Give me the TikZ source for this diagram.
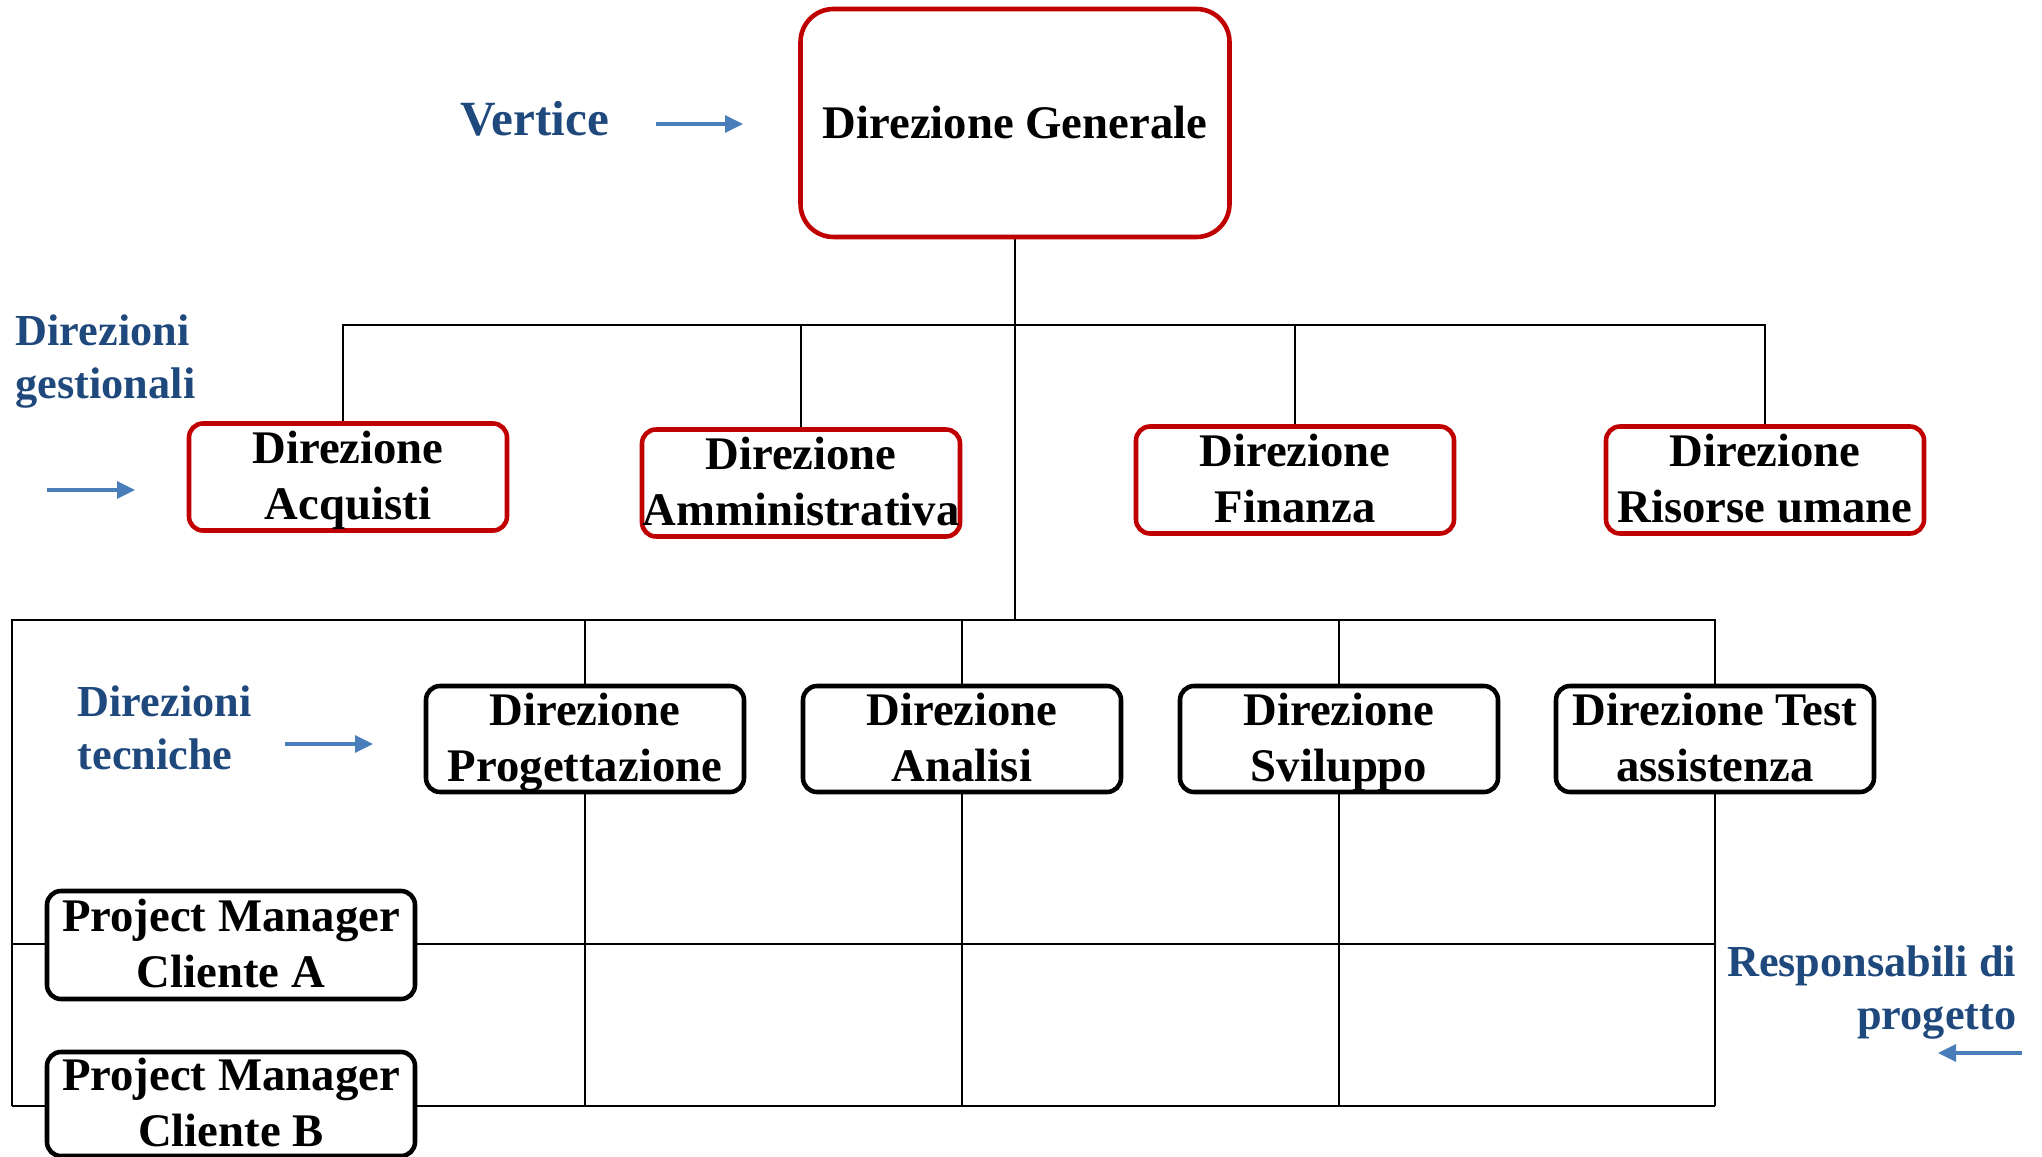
\documentclass[tikz,border=0pt]{standalone}
\usepackage{fontspec}
\setmainfont{Liberation Serif}
\usetikzlibrary{arrows.meta,backgrounds}
\definecolor{dgred}{RGB}{192,0,0}
\definecolor{lblblue}{RGB}{31,73,125}
\definecolor{arrblue}{RGB}{74,126,187}
% two centred lines with a fixed top height and bottom depth
\newcommand{\twoline}[2]{\rule{0pt}{9pt}\smash{#1}\\\smash{#2}\rule[-0.6pt]{0pt}{0.6pt}}
\begin{document}
\begin{tikzpicture}[x=0.1mm,y=-0.1mm,
  conn/.style={draw=black,line width=0.6pt},
  boxtext/.style={align=center,inner sep=0pt,
    font=\bfseries\fontsize{13.3}{16}\selectfont},
  redbox/.style={boxtext,draw=dgred,line width=1.3pt,fill=white,
    rounded corners=1.4mm,minimum width=31.8mm,minimum height=10.7mm},
  blkbox/.style={boxtext,draw=black,line width=1.3pt,fill=white,
    rounded corners=1.4mm,minimum width=31.8mm,minimum height=10.6mm},
  dgbox/.style={align=center,inner sep=0pt,
    font=\bfseries\fontsize{13.3}{15.6}\selectfont,
    draw=dgred,line width=1.3pt,fill=white,rounded corners=3.3mm,
    minimum width=42.9mm,minimum height=22.8mm},
  bluelbl/.style={text=lblblue,inner sep=0pt,
    font=\bfseries\fontsize{12.6}{15.2}\selectfont},
  bluearrow/.style={draw=arrblue,line width=0.9pt,
    -{Triangle[length=1.8mm,width=1.7mm]}}]

\useasboundingbox (0,0) rectangle (2042,1157);

% top of the hierarchy
\node[dgbox] (dg) at (1015,123) {Direzione Generale};

% management directions
\node[redbox] (acq) at (348,477) {\twoline{Direzione}{Acquisti}};
\node[redbox] (amm) at (801,483) {\twoline{Direzione}{Amministrativa}};
\node[redbox] (fin) at (1295,480) {\twoline{Direzione}{Finanza}};
\node[redbox] (ris) at (1765,480) {\twoline{Direzione}{Risorse umane}};

% technical directions
\node[blkbox] (prg) at (585,739) {\twoline{Direzione}{Progettazione}};
\node[blkbox] (ana) at (962,739) {\twoline{Direzione}{Analisi}};
\node[blkbox] (svi) at (1339,739) {\twoline{Direzione}{Sviluppo}};
\node[blkbox] (tst) at (1715,739) {\twoline{Direzione Test}{assistenza}};

% project managers
\node[blkbox,minimum width=36.8mm,minimum height=10.8mm] (pma) at (231,945) {\twoline{Project Manager}{Cliente A}};
\node[blkbox,minimum width=36.8mm,minimum height=10.4mm] (pmb) at (231,1104) {\twoline{Project Manager}{Cliente B}};

% side labels
\node[text=lblblue,inner sep=0pt,anchor=base west,
  font=\bfseries\fontsize{14}{16}\selectfont] (lvert) at (460,136) {Vertice};
\node[bluelbl,align=left,anchor=north west] (lgest) at (15,314) {Direzioni\\gestionali};
\node[bluelbl,align=left,anchor=north west] (ltec) at (77,685) {Direzioni\\tecniche};
\node[bluelbl,align=right,anchor=north east] (lresp) at (2017,945) {Responsabili di\\progetto};

% pointer arrows
\coordinate (va) at (656,124);  \coordinate (vb) at (743,124);
\coordinate (ga) at (47,490);   \coordinate (gb) at (135,490);
\coordinate (ta) at (285,744);  \coordinate (tb) at (373,744);
\coordinate (ra) at (2022,1053); \coordinate (rb) at (1938,1053);
\draw[bluearrow] (va) -- (vb);
\draw[bluearrow] (ga) -- (gb);
\draw[bluearrow] (ta) -- (tb);
\draw[bluearrow] (ra) -- (rb);

% bus levels and matrix frame
\coordinate (b1) at (1015,325);
\coordinate (b2) at (1015,620);
\coordinate (fl) at (12,620);
\coordinate (row) at (12,944);
\coordinate (bot) at (12,1106);

\begin{scope}[on background layer]
  \draw[conn] (dg.south) -- (b2);
  \draw[conn] ([xshift=-0.5mm]acq.north) -- ([xshift=-0.5mm]acq.north |- b1)
    -- (ris.north |- b1) -- (ris.north);
  \draw[conn] (amm.north) -- (amm.north |- b1);
  \draw[conn] (fin.north) -- (fin.north |- b1);
  \draw[conn] (bot) -- (fl) -- (tst.north |- fl) -- (tst.north);
  \draw[conn] (prg.north) -- (prg.north |- fl);
  \draw[conn] (ana.north) -- (ana.north |- fl);
  \draw[conn] (svi.north) -- (svi.north |- fl);
  \draw[conn] (prg.south) -- (prg.south |- bot);
  \draw[conn] (ana.south) -- (ana.south |- bot);
  \draw[conn] (svi.south) -- (svi.south |- bot);
  \draw[conn] (tst.south) -- (tst.south |- bot);
  \draw[conn] (row) -- (tst.south |- row);
  \draw[conn] (bot) -- (tst.south |- bot);
\end{scope}
\end{tikzpicture}
\end{document}
